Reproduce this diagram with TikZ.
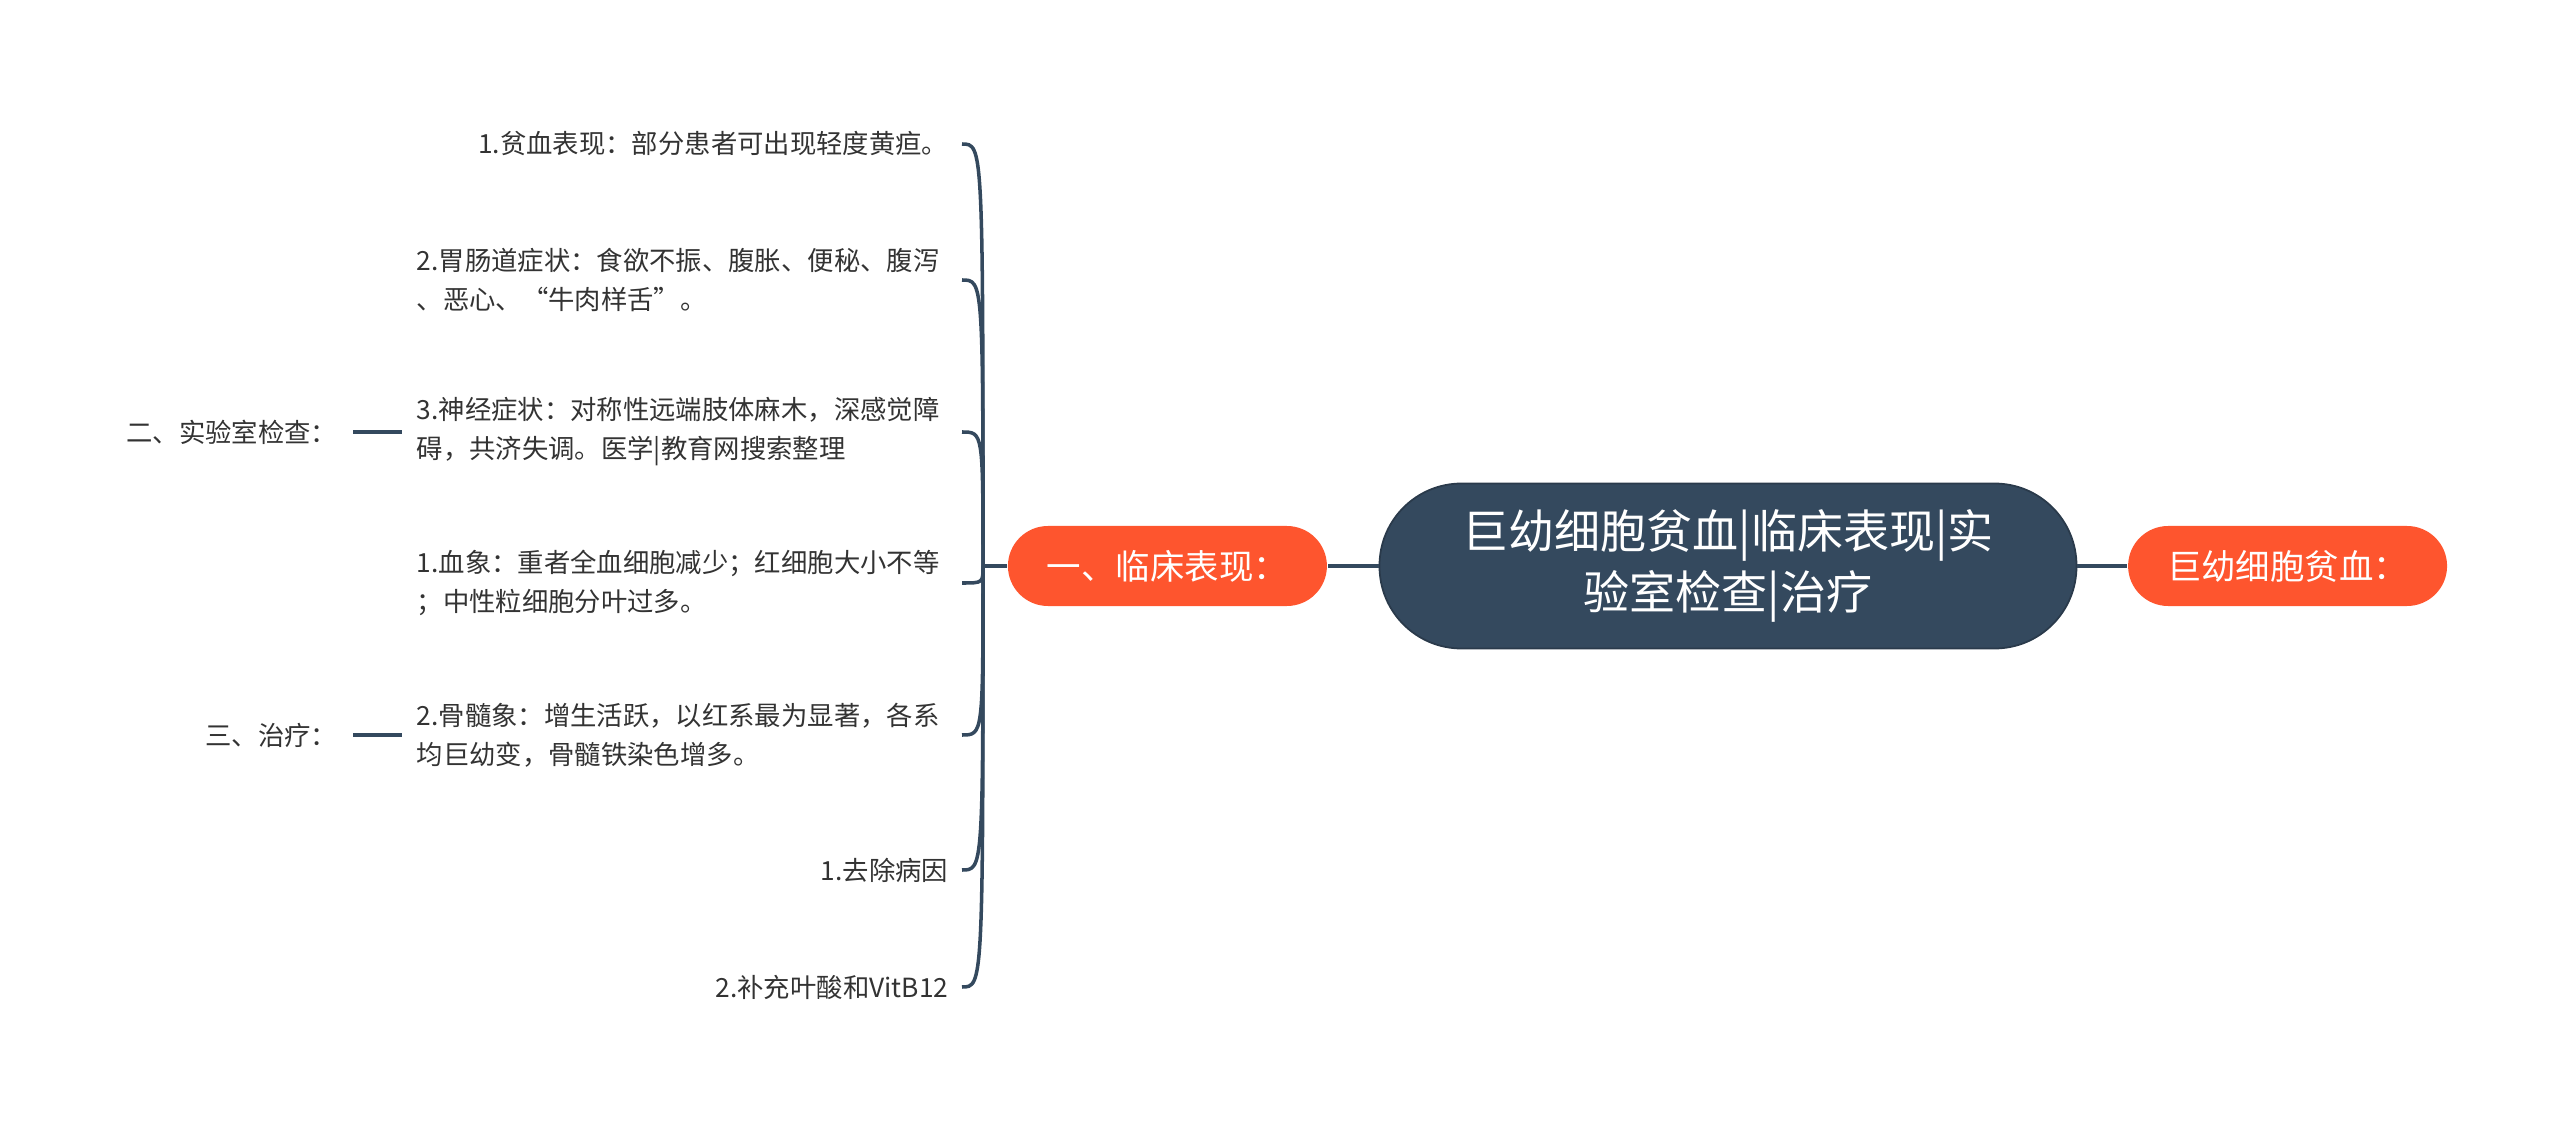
\documentclass[tikz,border=0pt]{standalone}
\usepackage{fontspec}
\setmainfont{Noto Sans CJK SC}
\usepackage{xcolor}
\usetikzlibrary{positioning,calc}
\definecolor{slate}{HTML}{34495E}
\definecolor{flame}{HTML}{FE552E}
\definecolor{inkgray}{HTML}{333333}

\begin{document}
\begin{tikzpicture}[
  topic/.style={fill=slate, draw=slate!80!black, line width=0.5pt, text=white, rounded corners=0.82cm, minimum width=6.97cm, minimum height=1.65cm, align=center, font=\fontsize{13.1pt}{17.2pt}\selectfont},
  pill/.style={fill=flame, text=white, rounded corners=0.4cm, minimum width=3.19cm, minimum height=0.8cm, font=\fontsize{9.8pt}{12pt}\selectfont},
  leaf/.style={text=inkgray, inner sep=0pt, align=left, font=\fontsize{7.5pt}{11.1pt}\selectfont},
  wire/.style={draw=slate, line width=1pt},
  node distance=0.5cm]
\useasboundingbox (0,0) rectangle (25.6,-11.32);
\node[topic] (main) at (17.28,-5.66) {巨幼细胞贫血|临床表现|实\\验室检查|治疗};
\node[pill, right=of main] (anemia) {巨幼细胞贫血：};
\node[pill, left=0.51cm of main] (clinic) {一、临床表现：};
% leaves of the clinic branch
\node[leaf, anchor=east] (anemic) at (9.49,-1.44) {1.贫血表现：部分患者可出现轻度黄疸。};
\node[leaf, anchor=west] (gut) at (4.16,-2.80) {2.胃肠道症状：食欲不振、腹胀、便秘、腹泻\\、恶心、“牛肉样舌”。};
\node[leaf, anchor=west] (nerve) at (4.16,-4.32) {3.神经症状：对称性远端肢体麻木，深感觉障\\碍，共济失调。医学|教育网搜索整理};
\node[leaf, anchor=west] (blood) at (4.16,-5.83) {1.血象：重者全血细胞减少；红细胞大小不等\\；中性粒细胞分叶过多。};
\node[leaf, anchor=west] (marrow) at (4.16,-7.35) {2.骨髓象：增生活跃，以红系最为显著，各系\\均巨幼变，骨髓铁染色增多。};
\node[leaf, anchor=east] (cause) at (9.49,-8.70) {1.去除病因};
\node[leaf, anchor=east] (folate) at (9.49,-9.87) {2.补充叶酸和VitB12};
% loose headings
\node[leaf, anchor=east] (lab) at (3.38,-4.32) {二、实验室检查：};
\node[leaf, anchor=east] (cure) at (3.38,-7.35) {三、治疗：};
\coordinate (labtip) at (4.02,-4.32);
\coordinate (curetip) at (4.02,-7.35);
\coordinate (trunk) at (9.83,-5.66);
\coordinate (tips) at (9.62,0);
\draw[wire] (main) -- (anemia);
\draw[wire] (main) -- (clinic);
\draw[wire] (clinic.west) -- (trunk);
\foreach \n in {anemic,gut,nerve,blood,marrow,cause,folate}
  \draw[wire] (trunk) .. controls (trunk |- \n.east) .. (\n.east -| tips);
\draw[wire, line width=1.2pt, shorten <=0.15cm] (lab.east) -- (labtip);
\draw[wire, line width=1.2pt, shorten <=0.15cm] (cure.east) -- (curetip);
\end{tikzpicture}
\end{document}
